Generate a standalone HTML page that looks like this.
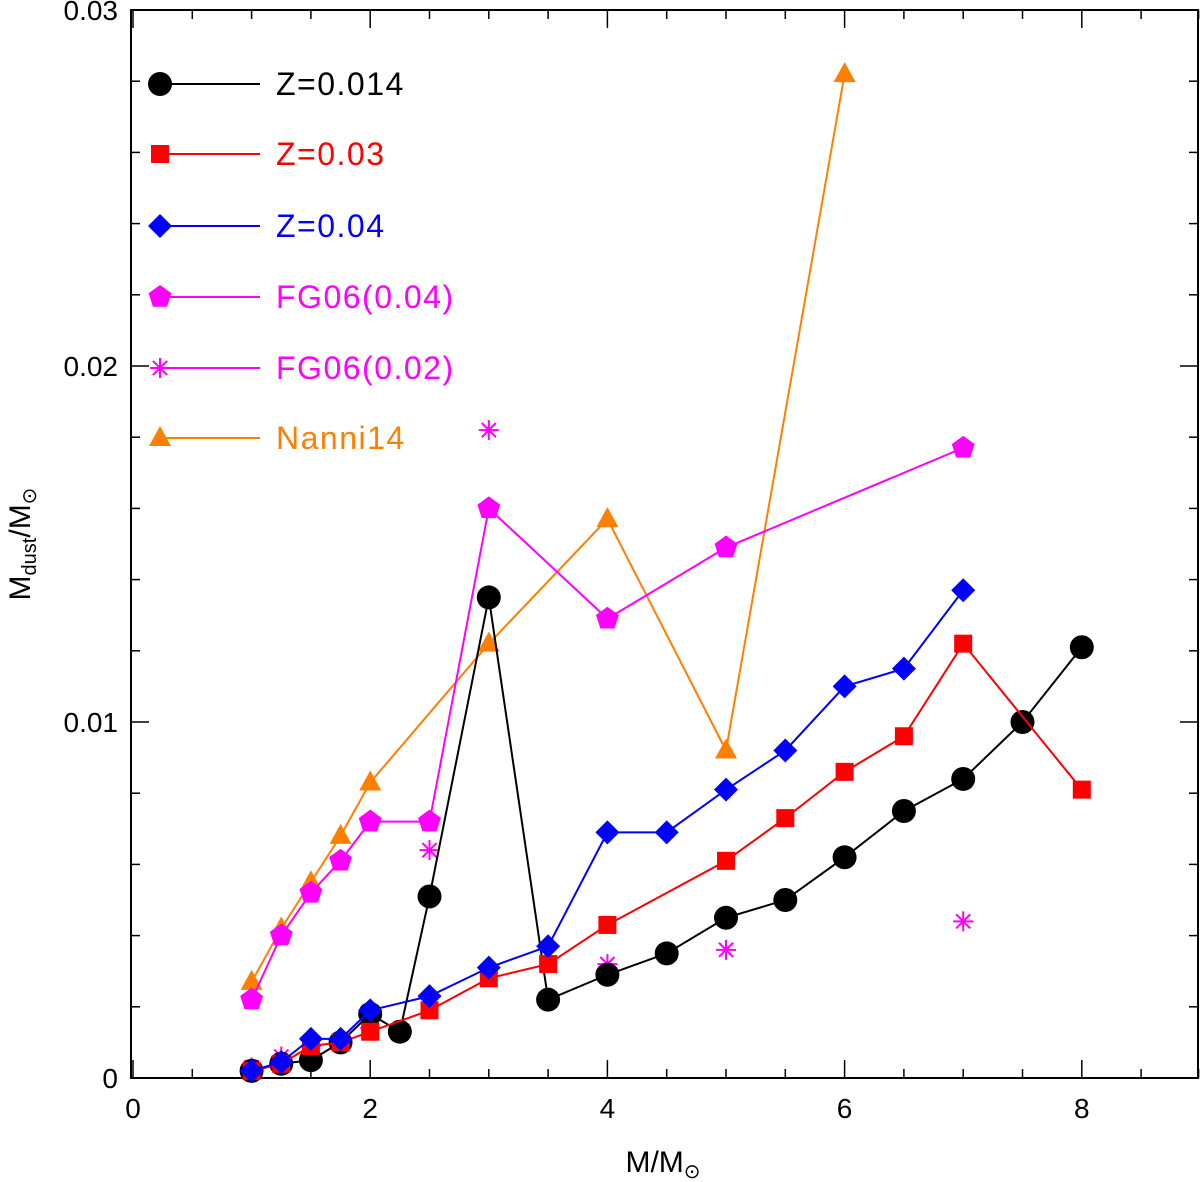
<!DOCTYPE html>
<html><head><meta charset="utf-8">
<style>
html,body{margin:0;padding:0;background:#fff;}
svg{display:block;font-family:"Liberation Sans",sans-serif;}
</style></head>
<body>
<svg id="chart" width="1200" height="1182" viewBox="0 0 1200 1182">
<rect x="131" y="10" width="1067" height="1068" fill="none" stroke="#000" stroke-width="2"/>
<g id="ticks"></g>
<g id="series"></g>
<g id="legend"></g>
<text x="663" y="1172" font-size="30" text-anchor="middle">M/M<tspan font-size="20" dy="6">⊙</tspan></text>
<text transform="translate(30,544) rotate(-90)" font-size="30" text-anchor="middle">M<tspan font-size="20" dy="6">dust</tspan><tspan dy="-6">/M</tspan><tspan font-size="20" dy="6">⊙</tspan></text>
</svg>
<script>
const xTicks=[0,2,4,6,8];
const yTicks=[0,0.01,0.02,0.03];
const yTickLabels=["0","0.01","0.02","0.03"];
const zSolarX=[1,1.25,1.5,1.75,2,2.25,2.5,3,3.5,4,4.5,5,5.5,6,6.5,7,7.5,8];
const zSolarY=[0.0002,0.0004,0.0005,0.001,0.0018,0.0013,0.0051,0.0135,0.0022,0.0029,0.0035,0.0045,0.005,0.0062,0.0075,0.0084,0.01,0.0121];
const z03X=[1,1.25,1.5,1.75,2,2.5,3,3.5,4,5,5.5,6,6.5,7,8];
const z03Y=[0.0002,0.0004,0.0009,0.001,0.0013,0.0019,0.0028,0.0032,0.0043,0.0061,0.0073,0.0086,0.0096,0.0122,0.0081];
const z04X=[1,1.25,1.5,1.75,2,2.5,3,3.5,4,4.5,5,5.5,6,6.5,7];
const z04Y=[0.0002,0.00045,0.0011,0.0011,0.0019,0.0023,0.0031,0.0037,0.0069,0.0069,0.0081,0.0092,0.011,0.0115,0.0137];
const fg04X=[1,1.25,1.5,1.75,2,2.5,3,4,5,7];
const fg04Y=[0.0022,0.004,0.0052,0.0061,0.0072,0.0072,0.016,0.0129,0.0149,0.0177];
const fg02X=[1,1.25,1.5,1.75,2,2.5,3,4,5,7];
const fg02Y=[0.0003,0.0006,0.0009,0.001,0.0014,0.0064,0.0182,0.0032,0.0036,0.0044];
const nanX=[1,1.25,1.5,1.75,2,3,4,5,6];
const nanY=[0.0027,0.0042,0.0055,0.0068,0.0083,0.0122,0.0157,0.0092,0.0282];

const NS="http://www.w3.org/2000/svg";
const L=131,R=1198,T=10,B=1078;
const sx=v=>133+v*118.6;
const sy=v=>B-v*35600;
function mk(tag,attrs,parent){const e=document.createElementNS(NS,tag);for(const k in attrs)e.setAttribute(k,attrs[k]);parent.appendChild(e);return e;}
const tg=document.getElementById('ticks');
for(let v=0;v<=9.001;v+=0.5){const x=sx(v);const len=(Math.abs(v%2)<1e-6)?18:9;
 const t1=mk('line',{x1:x,x2:x,y1:B,y2:B-len,stroke:'#000','stroke-width':1.5},tg);
 
 
 const t2=mk('line',{x1:x,x2:x,y1:T,y2:T+len,stroke:'#000','stroke-width':1.5},tg);
 
 }
for(let i=0;i<=15;i++){const v=i*0.002;const y=sy(v);const len=(i%5===0)?18:9;
 const t1=mk('line',{x1:L,x2:L+len,y1:y,y2:y,stroke:'#000','stroke-width':1.5},tg);
 
 
 const t2=mk('line',{x1:R,x2:R-len,y1:y,y2:y,stroke:'#000','stroke-width':1.5},tg);
 
 }
xTicks.forEach(v=>{const t=mk('text',{x:sx(v),y:1118,'font-size':28,'text-anchor':'middle'},tg);t.textContent=String(v);
 
 });
yTicks.forEach((v,i)=>{const t=mk('text',{x:118,y:sy(v)+10,'font-size':28,'text-anchor':'end'},tg);t.textContent=yTickLabels[i];
 
 });

function marker(type,x,y,color,g){
 let e;
 if(type==='circle')e=mk('circle',{cx:x,cy:y,r:12,fill:color},g);
 else if(type==='square')e=mk('rect',{x:x-9,y:y-9,width:18,height:18,fill:color},g);
 else if(type==='diamond')e=mk('polygon',{points:`${x},${y-12} ${x+12},${y} ${x},${y+12} ${x-12},${y}`,fill:color},g);
 else if(type==='pentagon'){let p=[];for(let k=0;k<5;k++){const a=-Math.PI/2+k*2*Math.PI/5;p.push((x+12*Math.cos(a))+','+(y+12*Math.sin(a)));}e=mk('polygon',{points:p.join(' '),fill:color},g);}
 else if(type==='triangle')e=mk('polygon',{points:`${x},${y-12} ${x+11},${y+8} ${x-11},${y+8}`,fill:color},g);
 else if(type==='star'){let d='';for(let k=0;k<4;k++){const a=k*Math.PI/4;d+=`M${x-10*Math.cos(a)},${y-10*Math.sin(a)}L${x+10*Math.cos(a)},${y+10*Math.sin(a)}`;}e=mk('path',{d:d,stroke:color,'stroke-width':2,fill:'none'},g);}
 return e;
}
const series=[
 {name:'z-0.014',xs:zSolarX,ys:zSolarY,c:'#000',m:'circle',line:true,label:'Z=0.014'},
 {name:'z-0.03',xs:z03X,ys:z03Y,c:'#f00',m:'square',line:true,label:'Z=0.03'},
 {name:'z-0.04',xs:z04X,ys:z04Y,c:'#00f',m:'diamond',line:true,label:'Z=0.04'},
 {name:'fg06-0.04',xs:fg04X,ys:fg04Y,c:'#f0f',m:'pentagon',line:true,label:'FG06(0.04)'},
 {name:'fg06-0.02',xs:fg02X,ys:fg02Y,c:'#f0f',m:'star',line:false,label:'FG06(0.02)'},
 {name:'nanni14',xs:nanX,ys:nanY,c:'#ff7f00',m:'triangle',line:true,label:'Nanni14'}
];
const sg=document.getElementById('series');
const order=[5,3,4,0,1,2];
order.forEach(i=>{const s=series[i];
 const g=mk('g',{},sg);
 
 
 if(s.line){const pl=mk('polyline',{points:s.xs.map((x,j)=>sx(x)+','+sy(s.ys[j])).join(' '),fill:'none',stroke:s.c,'stroke-width':2},g);
  
  }
 s.xs.forEach((x,j)=>{const e=marker(s.m,sx(x),sy(s.ys[j]),s.c,g);
  
  });
});
const lg=document.getElementById('legend');
const ly=[84,154,226,297,368,438];
series.forEach((s,i)=>{const g=mk('g',{},lg);
 
 
 mk('line',{x1:160,x2:260,y1:ly[i],y2:ly[i],stroke:s.c,'stroke-width':2},g);
 marker(s.m,160,ly[i],s.c,g);
 const t=mk('text',{x:276,y:ly[i]+11,'font-size':32,'letter-spacing':1.5,fill:s.c},g);t.textContent=s.label;});
</script>
</body></html>
